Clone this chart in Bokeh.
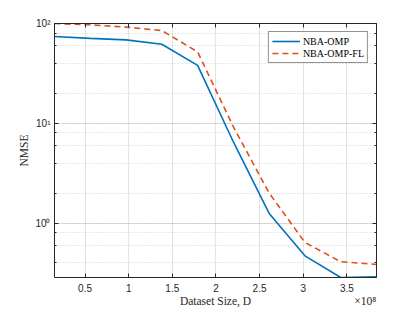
from bokeh.plotting import figure
from bokeh.models import (Range1d, FixedTicker, LogAxis, LinearAxis, Legend,
                          LegendItem, LogTicker, CustomJSTickFormatter)
from bokeh.embed import file_html
from bokeh.resources import INLINE

# ---- data (x in units of 1e8) ----
x_vals = [0.15, 0.56, 0.97, 1.38, 1.79, 2.20, 2.61, 3.02, 3.43, 3.84]
nmse_omp = [74, 71, 68.5, 62, 38, 6.5, 1.25, 0.47, 0.285, 0.289]
nmse_omp_fl = [100, 97, 92, 85, 52, 9.2, 2.0, 0.64, 0.41, 0.385]
series_names = ["NBA-OMP", "NBA-OMP-FL"]
x_ticks = [0.5, 1, 1.5, 2, 2.5, 3, 3.5]
y_ticks = [1, 10, 100]
y_tick_labels = ["10\u2070", "10\u00b9", "10\u00b2"]
x_label = "Dataset Size, D"
y_label = "NMSE"
x_exponent = "\u00d710\u2078"

AX = "#262626"
BLUE = "#0072BD"
ORANGE = "#D95319"
SANS = "Liberation Sans"
SERIF = "Liberation Serif"

x_lo, x_hi = min(x_vals), max(x_vals)

p = figure(width=415, height=312, output_backend="svg", toolbar_location=None,
           y_axis_type="log",
           x_range=Range1d(x_lo, x_hi),
           y_range=Range1d(min(nmse_omp), max(nmse_omp_fl)),
           min_border_left=54, min_border_right=39, min_border_top=23,
           min_border_bottom=35)
p.background_fill_color = "white"
p.border_fill_color = "white"
p.outline_line_color = None

r1 = p.line(x_vals, nmse_omp, line_color=BLUE, line_width=1.6)
r2 = p.line(x_vals, nmse_omp_fl, line_color=ORANGE, line_width=1.6, line_dash="6 4")

# bottom axis (ticks + tick labels)
xa = p.xaxis[0]
xa.ticker = FixedTicker(ticks=x_ticks)
xa.major_label_text_font = SANS
xa.major_label_text_font_size = "10px"
xa.major_label_text_color = AX
xa.major_label_standoff = 6
xa.major_tick_in = 4
xa.major_tick_out = 0
xa.minor_tick_line_color = None
xa.axis_line_color = AX
xa.major_tick_line_color = AX

# second row under the x axis: axis title (centred) and the x10^8 multiplier
# (at the right end), sharing one line as in the reference
label_row = LinearAxis(
    ticker=FixedTicker(ticks=[(x_lo + x_hi) / 2, x_hi - 0.13]),
    formatter=CustomJSTickFormatter(args=dict(labels=[x_label, x_exponent]),
                                    code="return labels[index]"),
    axis_line_color=None, major_tick_line_color=None, minor_tick_line_color=None,
    major_tick_in=0, major_tick_out=0, major_label_standoff=0,
    major_label_text_font=SERIF, major_label_text_font_size="11.5px",
    major_label_text_color=AX)
p.add_layout(label_row, "below")

# left axis
ya = p.yaxis[0]
ya.ticker = LogTicker()
ya.major_label_overrides = {t: s for t, s in zip(y_ticks, y_tick_labels)}
ya.axis_label = y_label
ya.axis_label_text_font = SERIF
ya.axis_label_text_font_style = "normal"
ya.axis_label_text_font_size = "11.5px"
ya.axis_label_text_color = AX
ya.axis_label_standoff = 2
ya.major_label_text_font = SANS
ya.major_label_text_font_size = "10px"
ya.major_label_text_color = AX
ya.major_label_standoff = 4
ya.major_tick_in = 4
ya.major_tick_out = 0
ya.minor_tick_in = 2
ya.minor_tick_out = 0
ya.axis_line_color = AX
ya.major_tick_line_color = AX
ya.minor_tick_line_color = AX

# top / right box axes (ticks only)
top = LinearAxis(ticker=FixedTicker(ticks=x_ticks),
                 formatter=CustomJSTickFormatter(code="return ''"),
                 major_label_text_color=None,
                 major_tick_in=4, major_tick_out=0, minor_tick_line_color=None,
                 axis_line_color=AX, major_tick_line_color=AX, major_label_standoff=0)
p.add_layout(top, "above")
right = LogAxis(ticker=LogTicker(), formatter=CustomJSTickFormatter(code="return ''"),
                major_label_text_color=None,
                major_tick_in=4, major_tick_out=0, minor_tick_in=2, minor_tick_out=0,
                axis_line_color=AX, major_tick_line_color=AX, minor_tick_line_color=AX,
                major_label_standoff=0)
p.add_layout(right, "right")

# grids
p.xgrid.ticker = FixedTicker(ticks=x_ticks)
p.xgrid.grid_line_color = AX
p.xgrid.grid_line_alpha = 0.13
p.ygrid.grid_line_color = AX
p.ygrid.grid_line_alpha = 0.13
p.ygrid.minor_grid_line_color = AX
p.ygrid.minor_grid_line_alpha = 0.2
p.ygrid.minor_grid_line_dash = "1 2"

# legend
legend = Legend(items=[LegendItem(label=series_names[0], renderers=[r1]),
                       LegendItem(label=series_names[1], renderers=[r2])],
                location="top_right", margin=8, padding=3, spacing=0,
                glyph_height=12, glyph_width=28, label_height=12, label_standoff=3,
                border_line_color=AX, border_line_width=1,
                background_fill_color="white", background_fill_alpha=1,
                label_text_font=SERIF, label_text_font_size="10px",
                label_text_color="black")
p.add_layout(legend)

open("out.html", "w").write(file_html(p, INLINE))
